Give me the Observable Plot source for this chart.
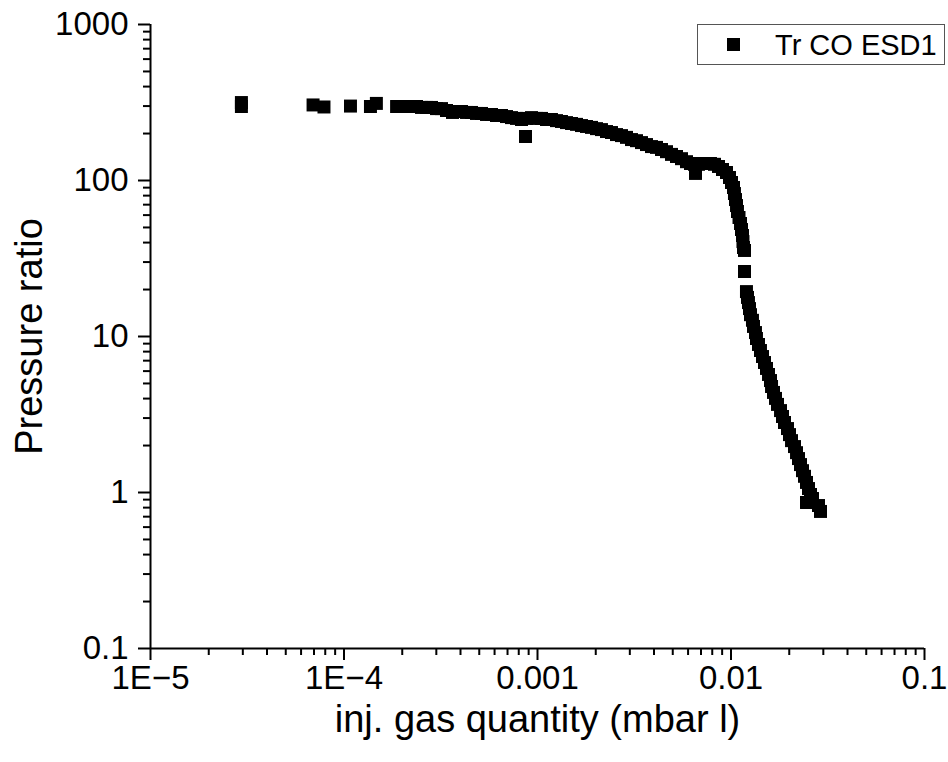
<!DOCTYPE html>
<html>
<head>
<meta charset="utf-8">
<script src="https://cdn.jsdelivr.net/npm/d3@7"></script>
<script src="https://cdn.jsdelivr.net/npm/@observablehq/plot@0.6"></script>
<style>
  html, body { margin: 0; padding: 0; background: #fff; }
  #wrap { position: relative; width: 948px; height: 762px; font-family: "Liberation Sans", Arial, sans-serif; }
  #legend { position: absolute; left: 697px; top: 24px; width: 248px; height: 41px; border: 1.5px solid #555; box-sizing: border-box; background: #fff; }
  #legend .sw { position: absolute; left: 29px; top: 13px; width: 13px; height: 13px; background: #000; }
  #legend .lb { position: absolute; left: 77px; top: 0; line-height: 40px; font-size: 29px; color: #000; white-space: nowrap; }
</style>
</head>
<body>
<div id="wrap"></div>
<script>
const seriesName = "Tr CO ESD1";
const xLabel = "inj. gas quantity (mbar l)";
const yLabel = "Pressure ratio";
const xTicks = [1e-5, 1e-4, 1e-3, 1e-2, 1e-1];
const xTickLabels = ["1E\u22125", "1E\u22124", "0.001", "0.01", "0.1"];
const yTicks = [0.1, 1, 10, 100, 1000];
const yTickLabels = ["0.1", "1", "10", "100", "1000"];

const gasQuantity = [
  2.95e-5, 2.95e-5, 6.92e-5, 7.88e-5, 1.08e-4, 1.37e-4, 1.47e-4, 1.87e-4,
  2.104e-4, 2.233e-4, 2.370e-4, 2.515e-4, 2.669e-4, 2.833e-4, 3.006e-4, 3.191e-4,
  3.386e-4, 3.637e-4, 3.814e-4, 4.048e-4, 4.297e-4, 4.560e-4, 4.839e-4, 5.136e-4,
  5.451e-4, 5.785e-4, 6.140e-4, 6.516e-4, 6.915e-4, 7.339e-4, 7.789e-4, 8.266e-4,
  8.670e-4, 8.773e-4, 9.311e-4, 9.881e-4, 1.049e-3, 1.113e-3, 1.181e-3, 1.254e-3,
  1.330e-3, 1.412e-3, 1.499e-3, 1.591e-3, 1.688e-3, 1.791e-3, 1.901e-3, 2.018e-3,
  2.141e-3, 2.273e-3, 2.412e-3, 2.560e-3, 2.717e-3, 2.883e-3, 3.060e-3, 3.248e-3,
  3.447e-3, 3.658e-3, 3.882e-3, 4.121e-3, 4.373e-3, 4.642e-3, 4.926e-3, 5.228e-3,
  5.549e-3, 5.888e-3, 6.175e-3, 6.554e-3, 6.477e-3, 6.792e-3, 7.123e-3, 7.470e-3,
  7.834e-3, 8.217e-3, 8.618e-3, 9.038e-3, 9.478e-3, 9.822e-3, 1.006e-2, 1.030e-2,
  1.042e-2, 1.055e-2, 1.068e-2, 1.080e-2, 1.100e-2, 1.120e-2, 1.133e-2, 1.147e-2,
  1.153e-2, 1.160e-2, 1.174e-2, 1.174e-2, 1.202e-2, 1.217e-2, 1.231e-2, 1.246e-2,
  1.261e-2, 1.291e-2, 1.307e-2, 1.338e-2, 1.354e-2, 1.387e-2, 1.420e-2, 1.455e-2,
  1.490e-2, 1.526e-2, 1.563e-2, 1.600e-2, 1.620e-2, 1.658e-2, 1.698e-2, 1.739e-2,
  1.803e-2, 1.846e-2, 1.890e-2, 1.959e-2, 2.006e-2, 2.055e-2, 2.129e-2, 2.181e-2,
  2.233e-2, 2.287e-2, 2.342e-2, 2.398e-2, 2.456e-2, 2.515e-2, 2.576e-2, 2.637e-2,
  2.456e-2, 2.833e-2, 2.901e-2
];
const pressureRatio = [
  316, 298, 305, 296, 300, 298, 312, 298,
  298, 298, 298, 294, 294, 294, 289, 289,
  281, 273, 277, 277, 273, 273, 269, 269,
  265, 265, 261, 261, 257, 253, 250, 246,
  191.5, 250, 253, 250, 250, 246, 246, 242,
  239, 235, 232, 229, 225, 222, 219, 215,
  212, 206, 203, 197, 194, 189, 183, 180,
  175, 170, 165, 163, 158, 153, 147, 142.5,
  138, 132, 128.5, 111, 127, 127, 128.5, 128.5,
  128.5, 127, 123, 117.6, 112.5, 104.5, 97.1, 90.2,
  82.5, 75.5, 69.1, 63.3, 57.9, 53.0, 48.5, 44.4,
  40.6, 37.2, 35.6, 26.1, 19.4, 17.8, 16.5, 15.1,
  13.8, 12.7, 11.6, 10.6, 9.71, 8.89, 8.13, 7.44,
  6.81, 6.24, 5.71, 5.22, 4.78, 4.38, 4.01, 3.67,
  3.35, 3.07, 2.81, 2.57, 2.35, 2.15, 1.97, 1.80,
  1.65, 1.51, 1.38, 1.27, 1.16, 1.06, 0.971, 0.915,
  0.863, 0.825, 0.756
];

const data = gasQuantity.map((x, i) => ({x, y: pressureRatio[i]}));

function minorTicks(majors) {
  const out = [];
  for (let i = 0; i < majors.length - 1; i++)
    for (let k = 2; k <= 9; k++) out.push(majors[i] * k);
  return out;
}
const xMinor = minorTicks(xTicks);
const yMinor = minorTicks(yTicks);

const chart = Plot.plot({
  width: 948,
  height: 762,
  marginLeft: 150,
  marginRight: 24,
  marginTop: 24,
  marginBottom: 114,
  style: {fontFamily: "'Liberation Sans', Arial, sans-serif", color: "#000", background: "#fff", overflow: "visible"},
  x: {type: "log", domain: [1e-5, 0.1]},
  y: {type: "log", domain: [0.1, 1000]},
  marks: [
    Plot.axisX(xMinor, {tickSize: 7, strokeWidth: 2, tickFormat: () => "", label: null}),
    Plot.axisY(yMinor, {tickSize: 7, strokeWidth: 2, tickFormat: () => "", label: null}),
    Plot.axisX(xTicks, {tickSize: 12, tickPadding: 5, strokeWidth: 2, fontSize: 33,
      tickFormat: (d) => xTickLabels[xTicks.indexOf(d)], label: null}),
    Plot.axisY(yTicks, {tickSize: 12, tickPadding: 10, strokeWidth: 2, fontSize: 33,
      tickFormat: (d) => yTickLabels[yTicks.indexOf(d)], label: null}),
    Plot.ruleX([1e-5], {strokeWidth: 2}),
    Plot.ruleY([0.1], {strokeWidth: 2}),
    Plot.dot(data, {x: "x", y: "y", symbol: "square", r: 7.33, fill: "#000", stroke: null}),
    Plot.text([xLabel], {frameAnchor: "bottom", lineAnchor: "middle", textAnchor: "middle", dy: 71, fontSize: 38, text: d => d}),
    Plot.text([yLabel], {frameAnchor: "left", lineAnchor: "middle", textAnchor: "middle", dx: -121, rotate: -90, fontSize: 38, text: d => d})
  ]
});

const wrap = document.getElementById("wrap");
wrap.appendChild(chart);
const legend = document.createElement("div");
legend.id = "legend";
legend.innerHTML = '<div class="sw"></div><div class="lb"></div>';
legend.querySelector(".lb").textContent = seriesName;
wrap.appendChild(legend);
</script>
</body>
</html>
